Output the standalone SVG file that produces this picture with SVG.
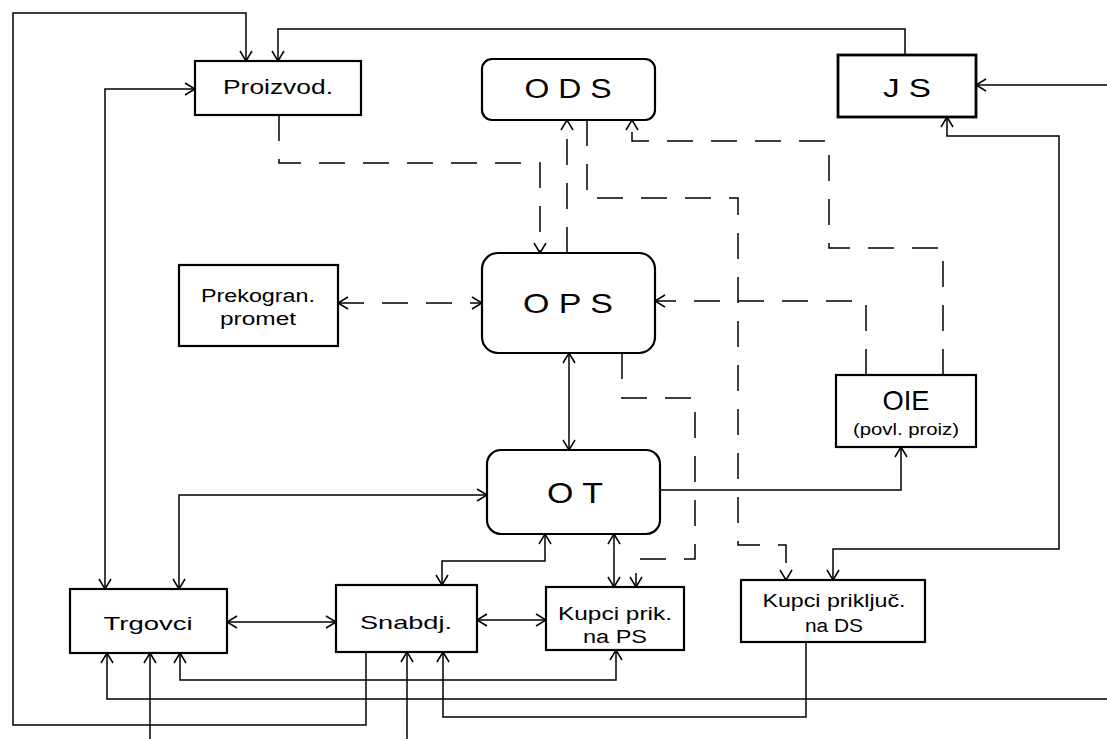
<svg xmlns="http://www.w3.org/2000/svg" width="1107" height="739" viewBox="0 0 1107 739">
<style>
.box{fill:#fff;stroke:#000;stroke-width:2.2}
.t{font-family:"Liberation Sans",Arial,sans-serif;fill:#000;text-anchor:middle}
.c{fill:none;stroke:#000;stroke-width:1.5}
.d{fill:none;stroke:#000;stroke-width:1.5;stroke-dasharray:26 18}
</style>
<defs>
<marker id="a" viewBox="-12 -8 14 16" refX="0" refY="0" markerWidth="14" markerHeight="16" markerUnits="userSpaceOnUse" orient="auto-start-reverse">
<path d="M-10,-6 L0,0 L-10,6" fill="none" stroke="#000" stroke-width="1.5"/>
</marker>
</defs>
<rect width="1107" height="739" fill="#fff"/>
<g id="connectors">
<path class="c" d="M366,652 V725 H13 V13 H246 V61" marker-end="url(#a)"/>
<path class="c" d="M905,55 V29 H278 V61" marker-end="url(#a)"/>
<path class="c" d="M195,89 H105 V589" marker-start="url(#a)" marker-end="url(#a)"/>
<path class="d" d="M279,115 V163 H540 V253" marker-end="url(#a)"/>
<path class="d" d="M567,253 V120" marker-end="url(#a)"/>
<path class="d" d="M587,120 V198 H738 V545 H786 V580" marker-end="url(#a)"/>
<path class="d" d="M943,375 V248 H829 V141 H632 V120" marker-end="url(#a)"/>
<path class="d" d="M866,375 V301 H655" marker-end="url(#a)"/>
<path class="d" d="M338,303 H482" marker-start="url(#a)" marker-end="url(#a)"/>
<path class="c" d="M569,353 V450" marker-start="url(#a)" marker-end="url(#a)"/>
<path class="d" d="M622,353 V398 H695 V559 H636 V587" marker-end="url(#a)"/>
<path class="c" d="M660,490 H901 V447" marker-end="url(#a)"/>
<path class="c" d="M487,495 H179 V589" marker-start="url(#a)" marker-end="url(#a)"/>
<path class="c" d="M442,585 V561 H545 V534" marker-start="url(#a)" marker-end="url(#a)"/>
<path class="c" d="M614,534 V587" marker-start="url(#a)" marker-end="url(#a)"/>
<path class="c" d="M227,622 H336" marker-start="url(#a)" marker-end="url(#a)"/>
<path class="c" d="M477,620 H546" marker-start="url(#a)" marker-end="url(#a)"/>
<path class="c" d="M180,653 V680 H616 V650" marker-start="url(#a)" marker-end="url(#a)"/>
<path class="c" d="M1107,699 H107 V653" marker-end="url(#a)"/>
<path class="c" d="M150,739 V653" marker-end="url(#a)"/>
<path class="c" d="M407,739 V652" marker-end="url(#a)"/>
<path class="c" d="M806,642 V717 H443 V652" marker-end="url(#a)"/>
<path class="c" d="M1107,85 H976" marker-end="url(#a)"/>
<path class="c" d="M947,117 V136 H1059 V549 H833 V580" marker-start="url(#a)" marker-end="url(#a)"/>
</g>
<g id="proizvod">
<rect class="box" x="195" y="61" width="166" height="54"/>
<text class="t" x="278" y="94" font-size="20" textLength="110" lengthAdjust="spacingAndGlyphs">Proizvod.</text>
</g>
<g id="ods">
<rect class="box" x="482" y="59" width="173" height="61" rx="10"/>
<text class="t" x="568" y="98" font-size="27" textLength="87" lengthAdjust="spacingAndGlyphs">O D S</text>
</g>
<g id="js">
<rect class="box" x="838" y="55" width="138" height="62" style="stroke-width:2.8"/>
<text class="t" x="907" y="97" font-size="26" textLength="48" lengthAdjust="spacingAndGlyphs">J S</text>
</g>
<g id="prekogran">
<rect class="box" x="179" y="265" width="159" height="81"/>
<text class="t" x="258" y="302" font-size="18" textLength="114" lengthAdjust="spacingAndGlyphs">Prekogran.</text>
<text class="t" x="258" y="325" font-size="18" textLength="76" lengthAdjust="spacingAndGlyphs">promet</text>
</g>
<g id="ops">
<rect class="box" x="482" y="253" width="173" height="100" rx="16"/>
<text class="t" x="568" y="313" font-size="28" textLength="90" lengthAdjust="spacingAndGlyphs">O P S</text>
</g>
<g id="ot">
<rect class="box" x="487" y="450" width="173" height="84" rx="14"/>
<text class="t" x="575" y="503" font-size="29" textLength="56" lengthAdjust="spacingAndGlyphs">O T</text>
</g>
<g id="oie">
<rect class="box" x="836" y="375" width="140" height="72"/>
<text class="t" x="906" y="410" font-size="28" textLength="47" lengthAdjust="spacingAndGlyphs">OIE</text>
<text class="t" x="906" y="435" font-size="16" textLength="106" lengthAdjust="spacingAndGlyphs">(povl. proiz)</text>
</g>
<g id="trgovci">
<rect class="box" x="70" y="589" width="157" height="64"/>
<text class="t" x="148" y="630" font-size="19" textLength="89" lengthAdjust="spacingAndGlyphs">Trgovci</text>
</g>
<g id="snabdj">
<rect class="box" x="336" y="585" width="141" height="67"/>
<text class="t" x="406" y="629" font-size="19" textLength="92" lengthAdjust="spacingAndGlyphs">Snabdj.</text>
</g>
<g id="kupci-ps">
<rect class="box" x="546" y="587" width="138" height="63"/>
<text class="t" x="615" y="620" font-size="18" textLength="114" lengthAdjust="spacingAndGlyphs">Kupci prik.</text>
<text class="t" x="615" y="643" font-size="18" textLength="64" lengthAdjust="spacingAndGlyphs">na PS</text>
</g>
<g id="kupci-ds">
<rect class="box" x="741" y="580" width="184" height="62"/>
<text class="t" x="834" y="607" font-size="18" textLength="143" lengthAdjust="spacingAndGlyphs">Kupci priključ.</text>
<text class="t" x="834" y="632" font-size="18" textLength="58" lengthAdjust="spacingAndGlyphs">na DS</text>
</g>
</svg>
